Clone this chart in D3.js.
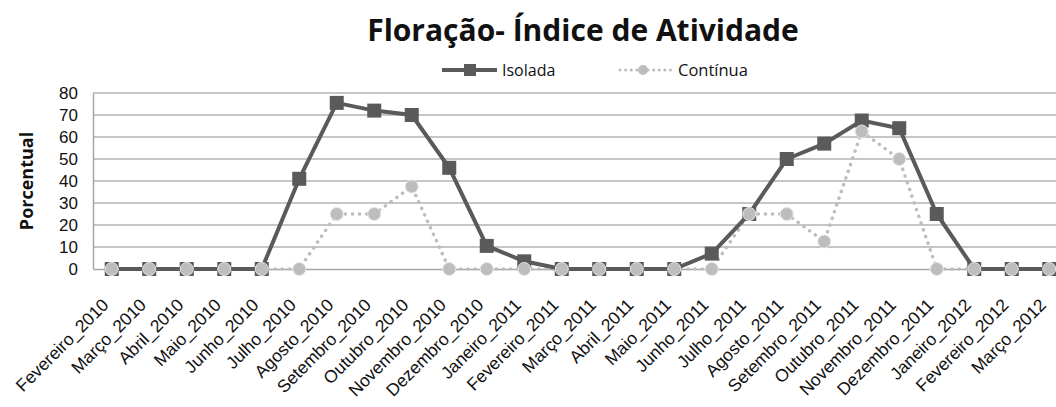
<!DOCTYPE html>
<html>
<head>
<meta charset="utf-8">
<script src="https://cdn.jsdelivr.net/npm/d3@7"></script>
<style>
  body { margin: 0; background: #fff; }
  svg { font-family: 'Open Sans', 'Noto Sans', sans-serif; }
</style>
</head>
<body>
<svg id="chart" width="1056" height="407"></svg>
<script>
const months = ['Fevereiro_2010','Março_2010','Abril_2010','Maio_2010','Junho_2010','Julho_2010',
  'Agosto_2010','Setembro_2010','Outubro_2010','Novembro_2010','Dezembro_2010','Janeiro_2011',
  'Fevereiro_2011','Março_2011','Abril_2011','Maio_2011','Junho_2011','Julho_2011','Agosto_2011',
  'Setembro_2011','Outubro_2011','Novembro_2011','Dezembro_2011','Janeiro_2012','Fevereiro_2012','Março_2012'];
const isolada = [0,0,0,0,0,41,75.5,72,70,46,10.5,3.5,0,0,0,0,7,25,50,57,67.5,64,25,0,0,0];
const continua = [0,0,0,0,0,0,25,25,37.5,0,0,0,0,0,0,0,0,25,25,12.5,62.5,50,0,0,0,0];
const yTicks = [0,10,20,30,40,50,60,70,80];

const margin = {top: 93, left: 93};
const plotW = 975, plotH = 176;

const svg = d3.select('#chart')
const g = svg.append('g').attr('transform', `translate(${margin.left},${margin.top})`)

const x = d3.scaleBand().domain(months).range([0, plotW])
const y = d3.scaleLinear().domain([0, 80]).range([plotH, 0])
const cx = d => x(d) + x.bandwidth() / 2

// gridlines
g.selectAll('.grid').data(yTicks.filter(t => t > 0)).join('line')
  .attr('x1', 0).attr('x2', plotW)
  .attr('y1', d => y(d)).attr('y2', d => y(d))
  .attr('stroke', '#b3b3b3').attr('stroke-width', 1.5)

// axes
const yAxis = g.append('g').call(d3.axisLeft(y).tickValues(yTicks).tickSize(0).tickPadding(15))
yAxis.select('.domain').attr('stroke', '#a6a6a6').attr('stroke-width', 1.5)
yAxis.selectAll('text').attr('font-size', 17).attr('fill', '#111')

const xAxis = g.append('g').attr('transform', `translate(0,${plotH})`)
  .call(d3.axisBottom(x).tickSize(0))
xAxis.select('.domain').attr('stroke', '#a6a6a6').attr('stroke-width', 1.5)
xAxis.selectAll('text')
  .attr('font-size', 17.5).attr('fill', '#111')
  .attr('text-anchor', 'end')
  .attr('dy', 0).attr('y', 0)
  .attr('transform', 'translate(-2,37) rotate(-45)')

// Continua (drawn under)
const lineC = d3.line().x((d, i) => cx(months[i])).y(d => y(d))
g.append('path').datum(continua)
  .attr('d', lineC).attr('fill', 'none')
  .attr('stroke', '#bdbdbd').attr('stroke-width', 3.5)
  .attr('stroke-linecap', 'round').attr('stroke-dasharray', '0.1,7')

// Isolada
const lineI = d3.line().x((d, i) => cx(months[i])).y(d => y(d))
g.append('path').datum(isolada)
  .attr('d', lineI).attr('fill', 'none')
  .attr('stroke', '#5a5a5a').attr('stroke-width', 4)
g.selectAll('.sq').data(isolada).join('rect')
  .attr('x', (d, i) => cx(months[i]) - 7).attr('y', d => y(d) - 7)
  .attr('width', 14).attr('height', 14)
  .attr('fill', '#5a5a5a')

g.selectAll('.dot').data(continua).join('circle')
  .attr('cx', (d, i) => cx(months[i])).attr('cy', d => y(d))
  .attr('r', 6.5)
  .attr('fill', '#bdbdbd').attr('stroke', '#e6e6e6').attr('stroke-width', 1)

// title
svg.append('text')
  .attr('x', 583).attr('y', 41)
  .attr('text-anchor', 'middle')
  .attr('font-size', 30).attr('font-weight', 'bold').attr('fill', '#111')
  .text('Floração- Índice de Atividade')

// y label
svg.append('text')
  .attr('transform', 'translate(33,181) rotate(-90)')
  .attr('text-anchor', 'middle')
  .attr('font-size', 18).attr('font-weight', 'bold').attr('fill', '#111')
  .text('Porcentual')

// legend
const leg = svg.append('g')
leg.append('line').attr('x1', 442).attr('x2', 497).attr('y1', 70).attr('y2', 70)
  .attr('stroke', '#5a5a5a').attr('stroke-width', 4)
leg.append('rect').attr('x', 464).attr('y', 64).attr('width', 12).attr('height', 12).attr('fill', '#5a5a5a')
leg.append('text').attr('x', 502).attr('y', 76).attr('font-size', 16).attr('fill', '#111').text('Isolada')
leg.append('line').attr('x1', 620).attr('x2', 673).attr('y1', 70).attr('y2', 70)
  .attr('stroke', '#bdbdbd').attr('stroke-width', 3)
  .attr('stroke-linecap', 'round').attr('stroke-dasharray', '0.1,5.5')
leg.append('circle').attr('cx', 643).attr('cy', 70).attr('r', 5).attr('fill', '#bdbdbd')
leg.append('text').attr('x', 678).attr('y', 76).attr('font-size', 16.5).attr('fill', '#111').text('Contínua')
</script>
</body>
</html>
